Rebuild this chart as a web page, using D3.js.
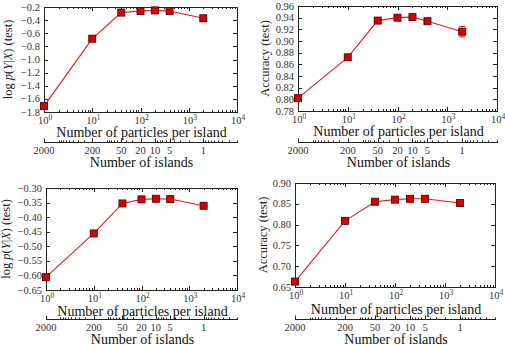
<!DOCTYPE html>
<html lang="en">
<head>
<meta charset="UTF-8">
<title>Particles per island</title>
<script src="https://d3js.org/d3.v7.min.js"></script>
<style>
  html, body { margin: 0; padding: 0; background: #fff; }
  svg text { font-family: "Liberation Serif", "DejaVu Serif", serif; }
</style>
</head>
<body>
<div id="chart"></div>
<script>
(function(d3) {
  'use strict';

  // data
  var totalParticles = 2000;
  var particles = [1, 10, 40, 100, 200, 400, 2000];
  var islandTicks = [2000, 200, 50, 20, 10, 5, 1];

  var llTopValues = [-1.71, -0.683, -0.285, -0.26, -0.252, -0.26, -0.372];
  var llTopErr = [0.01, 0.005, 0.004, 0.004, 0.004, 0.004, 0.005];
  var accTopValues = [0.802, 0.872, 0.935, 0.940, 0.941, 0.934, 0.916];
  var accTopErr = [0.002, 0.002, 0.002, 0.002, 0.002, 0.004, 0.009];

  var llBotValues = [-0.606, -0.456, -0.353, -0.339, -0.337, -0.338, -0.361];
  var llBotErr = [0.002, 0.002, 0.002, 0.002, 0.002, 0.002, 0.002];
  var accBotValues = [0.663, 0.809, 0.855, 0.860, 0.862, 0.862, 0.852];
  var accBotErr = [0.002, 0.002, 0.002, 0.002, 0.002, 0.002, 0.002];

  var llTopTicks = [-0.2, -0.4, -0.6, -0.8, -1.0, -1.2, -1.4, -1.6, -1.8];
  var accTopTicks = [0.78, 0.80, 0.82, 0.84, 0.86, 0.88, 0.90, 0.92, 0.94, 0.96];
  var llBotTicks = [-0.30, -0.35, -0.40, -0.45, -0.50, -0.55, -0.60, -0.65];
  var accBotTicks = [0.65, 0.70, 0.75, 0.80, 0.85, 0.90];

  var width = 505, height = 345;
  var tickColor = '#333';
  var red = '#e31a1a';

  var svg = d3.select('#chart').append('svg')
    .attr('width', width)
    .attr('height', height);

  function yLabel(t, kind) {
    if (kind === 'll') {
      t.append('tspan').text('log ');
      t.append('tspan').attr('font-style', 'italic').text('p');
      t.append('tspan').text('(');
      t.append('tspan').attr('font-style', 'italic').text('Y');
      t.append('tspan').text('|');
      t.append('tspan').attr('font-style', 'italic').text('X');
      t.append('tspan').text(') (test)');
    } else {
      t.text('Accuracy (test)');
    }
  }

  function drawPanel(o) {
    var g = svg.append('g');
    var x = d3.scaleLog().domain([1, 1e4]).range([o.left, o.right]);
    var y = d3.scaleLinear().range([o.bottom, o.top]);
    if (o.ticks[0] > o.ticks[1]) y.domain([o.ticks[o.ticks.length - 1], o.ticks[0]]);
    else y.domain([o.ticks[0], o.ticks[o.ticks.length - 1]]);
    // islands axis shares the pixel range: islands = total / particles
    var xi = d3.scaleLog().domain([totalParticles, totalParticles / 1e4]).range([o.left, o.right]);

    // y ticks (inward, both sides)
    o.ticks.forEach(function(v) {
      var yy = Math.round(y(v)) + 0.5;
      g.append('line').attr('x1', o.left).attr('x2', o.left + 4)
        .attr('y1', yy).attr('y2', yy).attr('stroke', '#222');
      g.append('line').attr('x1', o.right).attr('x2', o.right - 4)
        .attr('y1', yy).attr('y2', yy).attr('stroke', '#222');
      g.append('text').attr('x', o.left - 4).attr('y', y(v) + 3.5)
        .attr('text-anchor', 'end').attr('font-size', 10.5)
        .attr('fill', tickColor).text(d3.format(o.fmt)(v));
    });

    // x ticks (log, inward on bottom and top)
    for (var k = 0; k <= 4; k++) {
      for (var m = 1; m <= 9; m++) {
        var v = m * Math.pow(10, k);
        if (v > 1e4) break;
        var xx = Math.round(x(v)) + 0.5;
        var len = m === 1 ? 4 : 2;
        g.append('line').attr('x1', xx).attr('x2', xx)
          .attr('y1', o.bottom).attr('y2', o.bottom - len).attr('stroke', '#222');
        g.append('line').attr('x1', xx).attr('x2', xx)
          .attr('y1', o.top).attr('y2', o.top + len).attr('stroke', '#222');
        if (m === 1) {
          var t = g.append('text').attr('x', x(v) + 1).attr('y', o.bottom + 11.5)
            .attr('text-anchor', 'middle').attr('font-size', 10.5).attr('fill', tickColor);
          t.append('tspan').text('10');
          t.append('tspan').attr('font-size', 7.5).attr('dy', -4).text(k);
        }
      }
    }

    // frame
    g.append('rect')
      .attr('x', o.left + 0.5).attr('y', o.top + 0.5)
      .attr('width', o.right - o.left).attr('height', o.bottom - o.top)
      .attr('fill', 'none').attr('stroke', '#222').attr('stroke-width', 1);

    // series
    var pts = particles.map(function(p, i) {
      return { x: p, y: o.values[i], e: o.err[i] };
    });
    g.append('path').datum(pts)
      .attr('d', d3.line().x(function(d) { return x(d.x); }).y(function(d) { return y(d.y); }))
      .attr('fill', 'none').attr('stroke', red).attr('stroke-width', 1.1);

    var eb = g.selectAll('g.eb').data(pts).enter().append('g').attr('class', 'eb');
    eb.append('line')
      .attr('x1', function(d) { return x(d.x); }).attr('x2', function(d) { return x(d.x); })
      .attr('y1', function(d) { return y(d.y - d.e); }).attr('y2', function(d) { return y(d.y + d.e); })
      .attr('stroke', red);
    [-1, 1].forEach(function(s) {
      eb.append('line')
        .attr('x1', function(d) { return x(d.x) - 3; }).attr('x2', function(d) { return x(d.x) + 3; })
        .attr('y1', function(d) { return y(d.y + s * d.e); }).attr('y2', function(d) { return y(d.y + s * d.e); })
        .attr('stroke', red);
    });

    g.selectAll('rect.mk').data(pts).enter().append('rect').attr('class', 'mk')
      .attr('x', function(d) { return x(d.x) - 3.5; })
      .attr('y', function(d) { return y(d.y) - 3.5; })
      .attr('width', 7).attr('height', 7)
      .attr('fill', '#d90000').attr('stroke', '#5a0000').attr('stroke-width', 0.9);

    // x axis label
    var cx = (o.left + o.right) / 2 + 1;
    g.append('text').attr('x', cx).attr('y', o.bottom + o.labelGap)
      .attr('text-anchor', 'middle').attr('font-size', 14).attr('fill', '#111')
      .text('Number of particles per island');

    // islands axis
    var ay = o.islandY + 0.5;
    g.append('line').attr('x1', o.left).attr('x2', o.right + 1)
      .attr('y1', ay).attr('y2', ay).attr('stroke', '#222');
    for (var kk = -1; kk <= 3; kk++) {
      for (var mm = 1; mm <= 9; mm++) {
        var iv = mm * Math.pow(10, kk);
        if (iv < totalParticles / 1e4 - 1e-9 || iv > totalParticles) continue;
        if (islandTicks.indexOf(iv) >= 0) continue;
        var ix = Math.round(xi(iv)) + 0.5;
        g.append('line').attr('x1', ix).attr('x2', ix)
          .attr('y1', ay).attr('y2', ay - 2).attr('stroke', '#222');
      }
    }
    islandTicks.forEach(function(iv) {
      var ix = Math.round(xi(iv)) + 0.5;
      g.append('line').attr('x1', ix).attr('x2', ix)
        .attr('y1', ay).attr('y2', ay - 4).attr('stroke', '#222');
      g.append('text').attr('x', xi(iv)).attr('y', ay + 11.5)
        .attr('text-anchor', 'middle').attr('font-size', 10.5).attr('fill', tickColor)
        .text(iv);
    });
    g.append('text').attr('x', cx).attr('y', ay + o.islandGap)
      .attr('text-anchor', 'middle').attr('font-size', 14).attr('fill', '#111')
      .text('Number of islands');

    // y axis label
    var yl = g.append('text')
      .attr('transform', 'translate(' + o.yLabelX + ',' + ((o.top + o.bottom) / 2) + ') rotate(-90)')
      .attr('text-anchor', 'middle').attr('font-size', 12.5).attr('fill', '#222');
    yLabel(yl, o.kind);
  }

  drawPanel({ left: 44, right: 237, top: 7, bottom: 112, islandY: 142, labelGap: 25, islandGap: 24, yLabelX: 12,
    values: llTopValues, err: llTopErr, ticks: llTopTicks, fmt: '.1f', kind: 'll' });
  drawPanel({ left: 298, right: 497, top: 6, bottom: 111, islandY: 142, labelGap: 25, islandGap: 24, yLabelX: 269,
    values: accTopValues, err: accTopErr, ticks: accTopTicks, fmt: '.2f', kind: 'acc' });
  drawPanel({ left: 46, right: 237, top: 188, bottom: 290, islandY: 319, labelGap: 26, islandGap: 24, yLabelX: 10,
    values: llBotValues, err: llBotErr, ticks: llBotTicks, fmt: '.2f', kind: 'll' });
  drawPanel({ left: 295, right: 495, top: 183, bottom: 287, islandY: 319, labelGap: 27, islandGap: 24, yLabelX: 267,
    values: accBotValues, err: accBotErr, ticks: accBotTicks, fmt: '.2f', kind: 'acc' });

})(window.d3);
</script>
</body>
</html>
